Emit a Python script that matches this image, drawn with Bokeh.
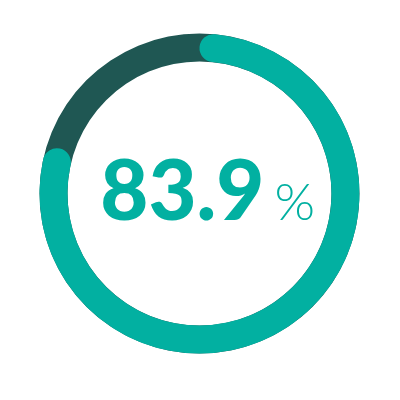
import math
from bokeh.plotting import figure
from bokeh.embed import file_html
from bokeh.resources import INLINE
from bokeh.core.properties import value as pvalue

# data
gauge_value = [83.9]
value_label = ["83.9"]
unit_label = ["%"]

TEAL = "#02B0A1"
DARK = "#1F5753"

W = H = 384
p = figure(width=W, height=H, x_range=(0, W), y_range=(0, H),
           output_backend="svg", toolbar_location=None, min_border=0,
           outline_line_color=None)
p.axis.visible = False
p.grid.visible = False
p.background_fill_color = "white"

cx, cy = 199, 191
r_mid, thick = 146, 28

# background ring
p.annulus(x=[cx], y=[cy], inner_radius=r_mid - thick / 2, outer_radius=r_mid + thick / 2,
          fill_color=DARK, line_color=None)

# value arc (clockwise from near top)
start = math.radians(84.5)
sweep = math.radians(330) * gauge_value[0] / 100
p.arc(x=[cx], y=[cy], radius=r_mid, start_angle=start, end_angle=start - sweep,
      direction="clock", line_color=TEAL, line_width=thick, line_cap="round")

p.text(x=[264], y=[195], text=value_label, text_font=pvalue("'Lato Black', Lato"),
       text_font_style="bold", text_font_size="83px", text_color=TEAL,
       text_align="right", text_baseline="alphabetic")
p.text(x=[274], y=[185], text=unit_label, text_font=pvalue("'Lato Light', Lato"),
       text_font_style="normal", text_font_size="52px", text_color=TEAL,
       text_align="left", text_baseline="alphabetic")

open("out.html", "w").write(file_html(p, INLINE))
